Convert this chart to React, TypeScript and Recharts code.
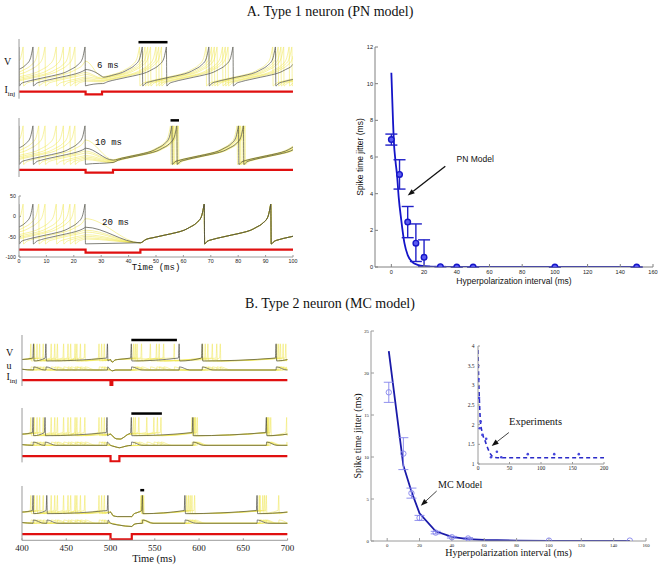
import React from 'react';
import {
  LineChart, Line, XAxis, YAxis, ComposedChart, Scatter, ErrorBar, ReferenceLine, Label,
} from 'recharts';

const SERIF = '"Liberation Serif", "DejaVu Serif", serif';
const SANS = '"Liberation Sans", Arial, sans-serif';
const MONO = '"Liberation Mono", "DejaVu Sans Mono", monospace';
const FRAME = '#9a9a9a';

// ---------------- A (right): PN model jitter ----------------
const pnCurveX = [0, 1, 1.5, 2.5, 3.5, 4.5, 6, 8, 10, 13, 16, 20, 30, 40, 150];
const pnCurveY = [10.6, 8.0, 6.9, 5.8, 5.0, 3.8, 2.6, 1.3, 0.65, 0.25, 0.12, 0.05, 0.01, 0, 0];
const pnPointX = [0, 5, 10, 15, 20, 30, 40, 50, 100, 150];
const pnPointY = [6.95, 5.05, 2.45, 1.3, 0.53, 0.02, 0, 0, 0, 0];
const pnErrDown = [0.3, 0.8, 0.85, 1.0, 0.5, 0, 0, 0, 0, 0];
const pnErrUp = [0.3, 0.8, 0.85, 1.05, 0.95, 0, 0, 0, 0, 0];
const pnXTicks = [0, 20, 40, 60, 80, 100, 120, 140, 160];
const pnYTicks = [0, 2, 4, 6, 8, 10, 12];
const pnArrow = [[33, 5.5], [10, 3.9]];

// ---------------- B (right): MC model jitter + inset ----------------
const mcCurveX = [1, 10, 15, 20, 30, 40, 50, 60, 80, 100, 150];
const mcCurveY = [22.6, 9.0, 5.9, 3.3, 1.15, 0.5, 0.22, 0.12, 0.05, 0.02, 0];
const mcPointX = [1, 10, 15, 20, 30, 40, 50, 100, 150];
const mcPointY = [17.7, 10.4, 5.7, 2.75, 1.0, 0.45, 0.3, 0.05, 0.05];
const mcErr = [1.2, 1.9, 0.6, 0.3, 0.15, 0.1, 0.1, 0, 0];
const mcXTicks = [0, 20, 40, 60, 80, 100, 120, 140, 160];
const mcYTicks = [0, 5, 10, 15, 20, 25];
const mcArrow = [[30.6, 5.95], [20.8, 4.2]];

const expCurveX = [0, 1, 2, 4, 6, 8, 11, 15, 20, 25, 35, 200];
const expCurveY = [3.9, 3.2, 2.7, 2.05, 1.85, 1.72, 1.6, 1.42, 1.25, 1.17, 1.16, 1.16];
const expPointX = [0.5, 1.6, 2.7, 4.3, 7, 13, 20.6, 30, 37, 79, 121, 160];
const expPointY = [3.16, 2.68, 1.91, 2.08, 1.74, 1.64, 1.17, 1.31, 1.17, 1.25, 1.25, 1.25];
const expXTicks = [0, 50, 100, 150, 200];
const expYTicks = [1, 1.5, 2, 2.5, 3, 3.5, 4];
const expArrow = [[49, 1.8], [21.7, 1.46]];

// ---------------- A (left): type 1 voltage traces ----------------
// membrane ramp after a spike reset (ms after reset, mV)
const rampDt = [0, 1, 3, 6, 10, 14, 17, 19, 21.5, 23.3, 24, 24.3];
const rampV = [-68, -62, -57, -52, -46, -40, -34, -27, -16, 0, 20, 30];
const hpA = [[24.3, 30.3], [24.3, 34.3], [24.3, 44.3]];
const currentA = [-82, -89];
const barsA = [[43.6, 54.2, 42], [55.3, 58.4, 44]];

const a1GraySpikes = [[5.1, 45, 69.3, 93.6], [0, 24.1, 53.8, 78.1]];
const a1GrayEnd = [-44, -62];
const a1YellowSpikes = [[1.5, 44, 68.3, 92.6], [7.2, 46, 70.3, 94.6], [9.5, 47, 71.3, 95.6], [13.6, 48, 72.3, 96.6], [16.2, 50, 74.3, 98.6], [18.6, 51, 75.3, 99.6], [20.4, 52, 76.3]];
const a1YellowEnd = [-45, -48.5, -50, -51, -54.5, -56, -58];

const a2GraySpikes = [[5.1, 55.8, 80.1], [0, 24.1, 57.6, 81.9]];
const a2GrayEnd = [-57, -63];
const a2YellowSpikes = [[1.5, 55.3, 79.6], [7.2, 56, 80.3], [9.5, 56.3, 80.6], [13.6, 56.6, 80.9], [16.2, 57.3, 81.6], [18.6, 57.8, 82.1], [20.4, 58.2, 82.5]];
const a2YellowEnd = [-56, -58, -59, -60, -62, -63, -64];

const a3GraySpikes = [[5.1, 67.6, 91.9], [0, 24.1, 67.6, 91.9]];
const a3GrayEnd = [-65, -65];
const a3YellowSpikes = [[1.5, 67.6, 91.9], [7.2, 67.6, 91.9], [9.5, 67.6, 91.9], [13.6, 67.6, 91.9], [16.2, 67.6, 91.9], [18.6, 67.6, 91.9], [20.4, 67.6, 91.9]];
const a3YellowEnd = [-65, -65, -65, -65, -65, -65, -65];

// ---------------- B (left): type 2 traces ----------------
const mcV = [27, 28.5, 43, 25.5]; // rest, pre-spike, peak, after spike
const mcU = [16.3, 19.5, 17]; // low, after spike, start
const currentB = [6, 1];
const dipLenB = [2, 10, 24];
const barsB = [[523.5, 575, 47], [523.5, 558, 46.7], [533.6, 538, 48]];

const b1GraySpikes = [413, 427, 496.5, 523.5, 577.5, 603.5, 687];
const b1YellowSpikes = [
  [417, 440, 466, 493, 526, 552, 604, 690],
  [420, 447, 471, 530, 545, 610, 695],
  [410, 433, 455, 487, 535, 560, 615, 688],
  [424, 452, 460, 572, 620, 698],
  [414, 437, 462, 490, 528, 555, 607, 624, 692],
];
const b2GraySpikes = [412.5, 426, 496, 523.5, 593, 676];
const b2YellowSpikes = [
  [417, 440, 466, 493, 526, 549, 594, 677],
  [420, 447, 471, 532, 596, 679],
  [410, 433, 455, 487, 541, 592, 678],
  [424, 452, 460, 557, 598, 681],
  [414, 437, 462, 490, 528, 553, 595, 676.5, 699],
];
const b3GraySpikes = [412.5, 428, 497, 536, 584, 665.5];
const b3YellowSpikes = [
  [417, 440, 466, 493, 535, 586, 669],
  [420, 447, 471, 536.5, 590, 672],
  [410, 433, 455, 487, 537.5, 588, 676],
  [424, 452, 460, 534.5, 592, 668, 690],
  [414, 437, 462, 490, 536, 595, 674],
];
const b1VDip = [[500, 27], [501, 25], [502.5, 24.5], [505, 26.5], [508, 27]];
const b2VDip = [[500, 27], [503, 24.5], [507, 22.5], [511, 22.3], [515, 24], [519, 26.5]];
const b3VDip = [[500, 27], [503, 23.5], [508, 22.7], [524, 22.7], [526, 25], [530, 26.5]];
const b1UDip = [[500, 16.3], [502, 15.5], [506, 16.3]];
const b2UDip = [[500, 16.3], [505, 15], [510, 14], [515, 15], [520, 16]];
const b3UDip = [[500, 16.3], [510, 14.5], [524, 13.2], [526, 15], [530, 16]];

type Pt = { t: number; v: number };

const rampAt = (dt: number) => {
  if (dt <= 0) return rampV[0];
  for (let i = 1; i < rampDt.length; i++) {
    if (dt <= rampDt[i]) {
      const f = (dt - rampDt[i - 1]) / (rampDt[i] - rampDt[i - 1]);
      return rampV[i - 1] + f * (rampV[i] - rampV[i - 1]);
    }
  }
  return rampV[rampV.length - 1];
};

function typeOneTrace(spikes: number[], hp: number[], vEnd: number): Pt[] {
  const period = rampDt[rampDt.length - 1];
  const pts: Pt[] = [];
  let cursor = 0;
  const rampTo = (s: number) => {
    rampDt.forEach((dt, i) => {
      const t = s - period + dt;
      if (t > cursor && t <= s) pts.push({ t, v: rampV[i] });
    });
    pts.push({ t: s + 0.15, v: rampV[0] });
    cursor = s + 0.15;
  };
  const pre = spikes.filter((s) => s < hp[0]);
  const post = spikes.filter((s) => s > hp[1]);
  pts.push({ t: 0, v: rampAt(period - pre[0]) });
  pre.forEach(rampTo);
  const reset = cursor;
  rampDt.forEach((dt, i) => {
    const t = reset + dt;
    if (t > cursor && t < hp[0]) pts.push({ t, v: rampV[i] });
  });
  pts.push({ t: hp[0], v: rampAt(hp[0] - reset) });
  pts.push({ t: hp[1], v: vEnd });
  cursor = hp[1];
  post.forEach(rampTo);
  const last = cursor;
  rampDt.forEach((dt, i) => {
    const t = last + dt;
    if (t > cursor && t < 100) pts.push({ t, v: rampV[i] });
  });
  pts.push({ t: 100, v: rampAt(100 - last) });
  return pts;
}

function withDip(raw: Pt[], dip: number[][]): Pt[] {
  const a = dip[0][0];
  const b = dip[dip.length - 1][0];
  return raw
    .filter((p) => p.t < a || p.t > b)
    .concat(dip.map(([t, v]) => ({ t, v })))
    .sort((p, q) => p.t - q.t);
}

function typeTwoV(spikes: number[], dip: number[][]): Pt[] {
  const raw: Pt[] = [{ t: 400, v: mcV[0] }];
  spikes.forEach((s) => {
    raw.push({ t: s - 0.8, v: mcV[1] }, { t: s, v: mcV[2] }, { t: s + 0.6, v: mcV[3] });
  });
  raw.push({ t: 700, v: mcV[0] });
  return withDip(raw, dip);
}

function typeTwoU(spikes: number[], dip: number[][]): Pt[] {
  const raw: Pt[] = [{ t: 400, v: mcU[2] }];
  spikes.forEach((s, k) => {
    raw.push({ t: s, v: mcU[0] }, { t: s + 0.3, v: mcU[1] });
    const next = k + 1 < spikes.length ? spikes[k + 1] : 700;
    if (next - s > 12.5) raw.push({ t: s + 12, v: mcU[0] });
  });
  raw.push({ t: 700, v: mcU[0] });
  return withDip(raw, dip);
}

const stepCurrent = (t0: number, t1: number, lo: number, hi: number, a: number, b: number): Pt[] => [
  { t: t0, v: hi }, { t: a, v: hi }, { t: a, v: lo }, { t: b, v: lo }, { t: b, v: hi }, { t: t1, v: hi },
];

const ArrowShape = (p: any) => {
  const { x1, y1, x2, y2 } = p;
  const a = Math.atan2(y2 - y1, x2 - x1);
  const len = 7;
  const half = 2.6;
  const bx = x2 - len * Math.cos(a);
  const by = y2 - len * Math.sin(a);
  const pts = `${x2},${y2} ${bx + half * Math.sin(a)},${by - half * Math.cos(a)} ${bx - half * Math.sin(a)},${by + half * Math.cos(a)}`;
  return (
    <g>
      <line x1={x1} y1={y1} x2={bx} y2={by} stroke="#111" strokeWidth={p.strokeWidth || 1} />
      <polygon points={pts} fill="#111" />
    </g>
  );
};

const Txt: React.FC<{ x: number; y: number; size: number; font: string; center?: boolean; children: React.ReactNode }> = ({ x, y, size, font, center, children }) => (
  <div
    style={{
      position: 'absolute', left: center ? x - 200 : x, width: center ? 400 : undefined, textAlign: center ? 'center' : 'left',
      top: y - size * 0.55, fontSize: size, lineHeight: `${size}px`, fontFamily: font, whiteSpace: 'nowrap', color: '#111',
    }}
  >
    {children}
  </div>
);

interface PanelProps {
  left: number; top: number; w: number; h: number;
  xDomain: number[]; yDomain: number[];
  yellow: Pt[][]; gray: Pt[][]; current: Pt[]; bar?: number[];
  axisH: number; xTicks?: number[]; yTicks?: number[];
  tickFont?: string; tickSize?: number; xTickMargin?: number;
}

function TracePanel(p: PanelProps) {
  const yw = 20;
  const mt = 4;
  const mr = 10;
  const mb = 2;
  const tickStyle = { fontSize: p.tickSize || 5.5, fill: '#222', fontFamily: p.tickFont || SANS };
  return (
    <div style={{ position: 'absolute', left: p.left - yw, top: p.top - mt }}>
      <LineChart width={p.w + yw + mr} height={p.h + p.axisH + mt + mb} margin={{ top: mt, right: mr, bottom: mb, left: 0 }}>
        <XAxis dataKey="t" type="number" domain={p.xDomain} allowDataOverflow height={p.axisH} stroke={FRAME}
          ticks={p.xTicks} interval={0} tick={p.xTicks ? tickStyle : false} tickLine={p.xTicks ? { stroke: FRAME } : false}
          tickSize={-2} tickMargin={p.xTickMargin || 4} />
        <XAxis xAxisId="top" orientation="top" type="number" domain={p.xDomain} height={0} tick={false} tickLine={false} stroke={FRAME} />
        <YAxis type="number" domain={p.yDomain} allowDataOverflow width={yw} stroke={FRAME} ticks={p.yTicks} interval={0}
          tick={p.yTicks ? tickStyle : false} tickLine={p.yTicks ? { stroke: FRAME } : false} tickSize={-2} tickMargin={5} />
        <YAxis yAxisId="right" orientation="right" type="number" domain={p.yDomain} width={0} tick={false} tickLine={false} stroke={FRAME} />
        {p.yellow.map((d, i) => (
          <Line key={`y${i}`} data={d} dataKey="v" type="monotone" stroke="#f0e650" strokeWidth={0.75} strokeOpacity={0.7}
            dot={false} activeDot={false} isAnimationActive={false} />
        ))}
        {p.gray.map((d, i) => (
          <Line key={`g${i}`} data={d} dataKey="v" type="monotone" stroke="#4a4a40" strokeWidth={0.7}
            dot={false} activeDot={false} isAnimationActive={false} />
        ))}
        <Line data={p.current} dataKey="v" type="linear" stroke="#e01010" strokeWidth={2.2} dot={false} activeDot={false} isAnimationActive={false} />
        {p.bar && (
          <ReferenceLine segment={[{ x: p.bar[0], y: p.bar[2] }, { x: p.bar[1], y: p.bar[2] }]} stroke="#000" strokeWidth={2.5} ifOverflow="visible" />
        )}
      </LineChart>
    </div>
  );
}

export default function App() {
  const pnCurve = pnCurveX.map((x, i) => ({ x, y: pnCurveY[i] }));
  const pnPoints = pnPointX.map((x, i) => ({ x, y: pnPointY[i], err: [pnErrDown[i], pnErrUp[i]] }));
  const mcCurve = mcCurveX.map((x, i) => ({ x, y: mcCurveY[i] }));
  const mcPoints = mcPointX.map((x, i) => ({ x, y: mcPointY[i], err: mcErr[i] }));
  const expCurve = expCurveX.map((x, i) => ({ x, y: expCurveY[i] }));
  const expPoints = expPointX.map((x, i) => ({ x, y: expPointY[i] }));

  const aPanels = [
    { gs: a1GraySpikes, ge: a1GrayEnd, ys: a1YellowSpikes, ye: a1YellowEnd },
    { gs: a2GraySpikes, ge: a2GrayEnd, ys: a2YellowSpikes, ye: a2YellowEnd },
    { gs: a3GraySpikes, ge: a3GrayEnd, ys: a3YellowSpikes, ye: a3YellowEnd },
  ];
  const aTops = [39.3, 118.3, 195.7];
  const aHeights = [59.7, 59, 61];

  const bPanels = [
    { gs: b1GraySpikes, ys: b1YellowSpikes, vd: b1VDip, ud: b1UDip },
    { gs: b2GraySpikes, ys: b2YellowSpikes, vd: b2VDip, ud: b2UDip },
    { gs: b3GraySpikes, ys: b3YellowSpikes, vd: b3VDip, ud: b3UDip },
  ];
  const bTops = [335, 408.3, 485.7];
  const bHeights = [51, 54.4, 54.3];

  const sansTick = { fontSize: 5.6, fill: '#222', fontFamily: SANS };
  const serifTick = { fontSize: 4.8, fill: '#222', fontFamily: SERIF };
  const insetTick = { fontSize: 5.5, fill: '#222', fontFamily: SERIF };

  return (
    <div style={{ position: 'fixed', left: 0, top: 0, width: 661, height: 568, background: '#fff', overflow: 'hidden' }}>
      <Txt x={330} y={13} size={14} font={SERIF} center>A. Type 1 neuron (PN model)</Txt>
      <Txt x={330} y={305} size={14} font={SERIF} center>B. Type 2 neuron (MC model)</Txt>

      {/* A left traces */}
      {aPanels.map((pp, k) => (
        <TracePanel
          key={`a${k}`}
          left={19.3} top={aTops[k]} w={274} h={aHeights[k]}
          xDomain={[0, 100]} yDomain={[-100, 50]}
          yellow={pp.ys.map((s, i) => typeOneTrace(s, hpA[k], pp.ye[i]))}
          gray={pp.gs.map((s, i) => typeOneTrace(s, hpA[k], pp.ge[i]))}
          current={stepCurrent(0, 100, currentA[1], currentA[0], hpA[k][0], hpA[k][1])}
          bar={barsA[k]}
          axisH={k === 2 ? 10 : 0}
          xTicks={k === 2 ? [0, 10, 20, 30, 40, 50, 60, 70, 80, 90, 100] : undefined}
          yTicks={k === 2 ? [-100, -50, 0, 50] : undefined}
          tickSize={5.3}
          xTickMargin={4}
        />
      ))}
      <Txt x={4} y={62} size={10} font={SERIF}>V</Txt>
      <Txt x={4.5} y={90} size={10} font={SERIF}>I<sub style={{ fontSize: 7 }}>inj</sub></Txt>
      <Txt x={97} y={67} size={9} font={MONO}>6 ms</Txt>
      <Txt x={95} y={144} size={9} font={MONO}>10 ms</Txt>
      <Txt x={102} y={224} size={9} font={MONO}>20 ms</Txt>
      <Txt x={156} y={268.5} size={9} font={MONO} center>Time (ms)</Txt>

      {/* B left traces */}
      {bPanels.map((pp, k) => (
        <TracePanel
          key={`b${k}`}
          left={21.7} top={bTops[k]} w={265.6} h={bHeights[k]}
          xDomain={[400, 700]} yDomain={[0, 52]}
          yellow={pp.ys.flatMap((s) => [typeTwoV(s, pp.vd), typeTwoU(s, pp.ud)])}
          gray={[typeTwoV(pp.gs, pp.vd), typeTwoU(pp.gs, pp.ud)]}
          current={stepCurrent(400, 700, currentB[1], currentB[0], 500, 500 + dipLenB[k])}
          bar={barsB[k]}
          axisH={k === 2 ? 14 : 0}
          xTicks={k === 2 ? [400, 450, 500, 550, 600, 650, 700] : undefined}
          tickFont={SERIF}
          tickSize={9}
          xTickMargin={6}
        />
      ))}
      <Txt x={6} y={353} size={10} font={SERIF}>V</Txt>
      <Txt x={6.5} y={366} size={10} font={SERIF}>u</Txt>
      <Txt x={6.5} y={377} size={10} font={SERIF}>I<sub style={{ fontSize: 7 }}>inj</sub></Txt>
      <Txt x={154} y={559.5} size={10.5} font={SERIF} center>Time (ms)</Txt>

      {/* A right: PN jitter */}
      <div style={{ position: 'absolute', left: 334.6, top: 42 }}>
        <ComposedChart width={328} height={247} margin={{ top: 5, right: 10, bottom: 4, left: 0 }}>
          <XAxis dataKey="x" type="number" domain={[-10, 160]} ticks={pnXTicks} interval={0} height={18} stroke="#808080"
            tickSize={-3} tickMargin={6.5} tick={sansTick} allowDataOverflow>
            <Label value="Hyperpolarization interval (ms)" position="insideBottom" offset={1} style={{ fontSize: 8.5, fill: '#111', fontFamily: SANS }} />
          </XAxis>
          <XAxis xAxisId="top" orientation="top" type="number" domain={[-10, 160]} ticks={pnXTicks} interval={0} height={0} tick={false} tickSize={-3} stroke="#808080" />
          <YAxis type="number" domain={[0, 12]} ticks={pnYTicks} interval={0} width={40} stroke="#808080" tickSize={-3} tickMargin={5} tick={sansTick} allowDataOverflow>
            <Label value="Spike time jitter (ms)" angle={-90} position="insideLeft" offset={25.4} style={{ fontSize: 8.5, textAnchor: 'middle', fill: '#111', fontFamily: SANS }} />
          </YAxis>
          <YAxis yAxisId="right" orientation="right" type="number" domain={[0, 12]} ticks={pnYTicks} interval={0} width={0} tick={false} tickSize={-3} stroke="#808080" />
          <Line data={pnCurve} dataKey="y" type="monotone" stroke="#1414c8" strokeWidth={1.8} dot={false} activeDot={false} isAnimationActive={false} />
          <Scatter data={pnPoints} dataKey="y" isAnimationActive={false}
            shape={(s: any) => <circle cx={s.cx} cy={s.cy} r={2.8} fill="#5b5bf0" stroke="#1515c8" strokeWidth={1.4} />}>
            <ErrorBar dataKey="err" direction="y" width={6} stroke="#2020c8" strokeWidth={1.4} />
          </Scatter>
          <ReferenceLine segment={[{ x: pnArrow[0][0], y: pnArrow[0][1] }, { x: pnArrow[1][0], y: pnArrow[1][1] }]} shape={ArrowShape} strokeWidth={1.3} ifOverflow="visible" />
        </ComposedChart>
      </div>
      <Txt x={456.5} y={159.5} size={8.5} font={SANS}>PN Model</Txt>

      {/* B right: MC jitter */}
      <div style={{ position: 'absolute', left: 330.5, top: 325.5 }}>
        <ComposedChart width={325} height={241} margin={{ top: 5, right: 10, bottom: 8, left: 0 }}>
          <XAxis dataKey="x" type="number" domain={[-10, 160]} ticks={mcXTicks} interval={0} height={18} stroke="#9a9a9a"
            tickSize={-3} tickMargin={6} tick={serifTick} allowDataOverflow>
            <Label value="Hyperpolarization interval (ms)" position="insideBottom" offset={3} style={{ fontSize: 10, fill: '#111', fontFamily: SERIF }} />
          </XAxis>
          <XAxis xAxisId="top" orientation="top" type="number" domain={[-10, 160]} ticks={mcXTicks} interval={0} height={0} tick={false} tickSize={-3} stroke="#9a9a9a" />
          <YAxis type="number" domain={[0, 25]} ticks={mcYTicks} interval={0} width={40} stroke="#9a9a9a" tickSize={-3} tickMargin={5} tick={serifTick} allowDataOverflow>
            <Label value="Spike time jitter (ms)" angle={-90} position="insideLeft" offset={26.2} style={{ fontSize: 10, textAnchor: 'middle', fill: '#111', fontFamily: SERIF }} />
          </YAxis>
          <YAxis yAxisId="right" orientation="right" type="number" domain={[0, 25]} ticks={mcYTicks} interval={0} width={0} tick={false} tickSize={-3} stroke="#9a9a9a" />
          <Line data={mcCurve} dataKey="y" type="linear" stroke="#1a1aa8" strokeWidth={1.8} dot={false} activeDot={false} isAnimationActive={false} />
          <Scatter data={mcPoints} dataKey="y" isAnimationActive={false}
            shape={(s: any) => <circle cx={s.cx} cy={s.cy} r={2.7} fill="none" stroke="#8484ec" strokeWidth={0.9} />}>
            <ErrorBar dataKey="err" direction="y" width={5} stroke="#8484ec" strokeWidth={0.9} />
          </Scatter>
          <ReferenceLine segment={[{ x: mcArrow[0][0], y: mcArrow[0][1] }, { x: mcArrow[1][0], y: mcArrow[1][1] }]} shape={ArrowShape} strokeWidth={0.8} ifOverflow="visible" />
        </ComposedChart>
      </div>
      <Txt x={438} y={485} size={10} font={SERIF}>MC Model</Txt>

      {/* inset: experiments */}
      <div style={{ position: 'absolute', left: 464, top: 342 }}>
        <ComposedChart width={146} height={134} margin={{ top: 4, right: 6, bottom: 2, left: 0 }}>
          <XAxis dataKey="x" type="number" domain={[0, 200]} ticks={expXTicks} interval={0} height={10} stroke="#9a9a9a"
            tickSize={-2} tickMargin={4.5} tick={insetTick} allowDataOverflow />
          <XAxis xAxisId="top" orientation="top" type="number" domain={[0, 200]} ticks={expXTicks} interval={0} height={0} tick={false} tickSize={-2} stroke="#9a9a9a" />
          <YAxis type="number" domain={[1, 4]} ticks={expYTicks} interval={0} width={14} stroke="#9a9a9a" tickSize={-2} tickMargin={5.5} tick={insetTick} allowDataOverflow />
          <YAxis yAxisId="right" orientation="right" type="number" domain={[1, 4]} ticks={expYTicks} interval={0} width={0} tick={false} tickSize={-2} stroke="#9a9a9a" />
          <Line data={expCurve} dataKey="y" type="monotone" stroke="#2a2ac8" strokeWidth={1.6} strokeDasharray="4 3" dot={false} activeDot={false} isAnimationActive={false} />
          <Scatter data={expPoints} dataKey="y" isAnimationActive={false}
            shape={(s: any) => <circle cx={s.cx} cy={s.cy} r={1.3} fill="#4646dc" />} />
          <ReferenceLine segment={[{ x: expArrow[0][0], y: expArrow[0][1] }, { x: expArrow[1][0], y: expArrow[1][1] }]} shape={ArrowShape} strokeWidth={0.8} ifOverflow="visible" />
        </ComposedChart>
      </div>
      <Txt x={509} y={423} size={10.5} font={SERIF}>Experiments</Txt>
    </div>
  );
}
